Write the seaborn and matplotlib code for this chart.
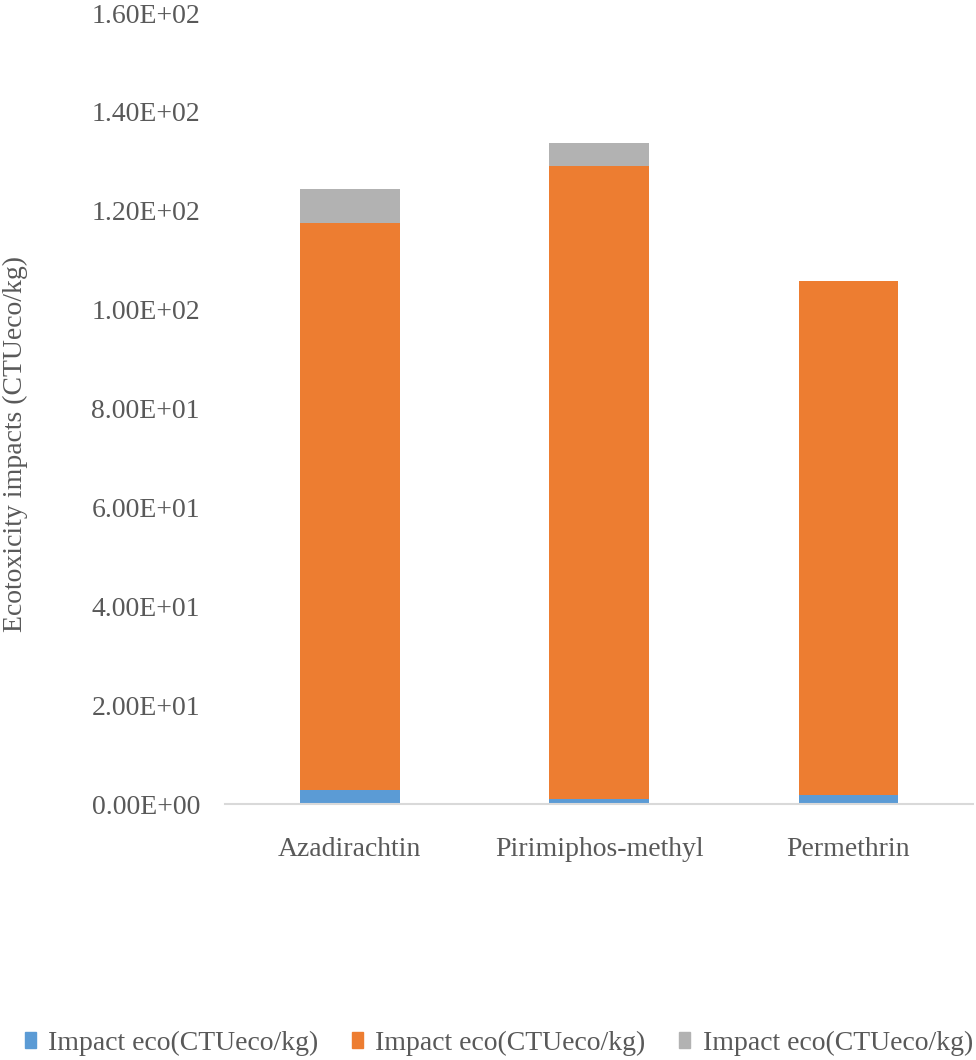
import numpy as np
import pandas as pd
import matplotlib
matplotlib.use("Agg")
import matplotlib.pyplot as plt
import matplotlib.patches as mpatches
from matplotlib.ticker import FuncFormatter
import seaborn as sns

sns.set_theme(style="white")
plt.rcParams['font.family'] = ['Liberation Serif', 'DejaVu Serif']

# data (CTUeco/kg)
pesticides = ["Azadirachtin", "Pirimiphos-methyl", "Permethrin"]
impact_blue = [2.8, 1.0, 1.9]
impact_orange = [114.8, 128.1, 103.8]
impact_gray = [6.8, 4.7, 0.15]
series_labels = ["Impact eco(CTUeco/kg)", "Impact eco(CTUeco/kg)", "Impact eco(CTUeco/kg)"]
colors = ["#5B9BD5", "#ED7D31", "#B2B2B2"]
y_ticks = [0, 20, 40, 60, 80, 100, 120, 140, 160]

df = pd.DataFrame({"pesticide": pesticides, "blue": impact_blue,
                   "orange": impact_orange, "gray": impact_gray})
df["top2"] = df["blue"] + df["orange"]
df["top3"] = df["top2"] + df["gray"]

fig = plt.figure(figsize=(9.76, 10.6), dpi=100)
ax = fig.add_axes([0.2305, 0.2415, 0.7665, 0.7462])

# stacked bars drawn as overlays, tallest first
for col, c in [("top3", colors[2]), ("top2", colors[1]), ("blue", colors[0])]:
    sns.barplot(data=df, x="pesticide", y=col, color=c, width=0.4,
                saturation=1, linewidth=0, ax=ax)

ax.set_ylim(0, 160)
ax.set_yticks(y_ticks)
ax.yaxis.set_major_formatter(FuncFormatter(lambda v, p: f"{v:.2E}"))
ax.set_xlim(-0.5, 2.5)

text_color = "#595959"
fs = 20
ax.tick_params(axis="y", length=0, pad=18, labelsize=fs, labelcolor=text_color)
ax.tick_params(axis="x", length=0, pad=24, labelsize=fs, labelcolor=text_color)
ax.set_xlabel("")
ax.set_ylabel("")
fig.text(0.016, 0.581, "Ecotoxicity impacts (CTUeco/kg)", rotation=90,
         ha="center", va="center", fontsize=fs, color=text_color)

for s in ["top", "right", "left"]:
    ax.spines[s].set_visible(False)
ax.spines["bottom"].set_color("#D9D9D9")
ax.spines["bottom"].set_linewidth(1.5)

handles = [mpatches.Patch(color=c, label=l) for c, l in zip(colors, series_labels)]
leg = fig.legend(handles=handles, loc="center", bbox_to_anchor=(0.511, 0.016), ncol=3,
                 frameon=False, fontsize=fs, handlelength=0.4, handleheight=0.5,
                 handletextpad=0.45, columnspacing=1.2, borderpad=0, borderaxespad=0)
for t in leg.get_texts():
    t.set_color(text_color)

fig.savefig("out.png", dpi=100)
